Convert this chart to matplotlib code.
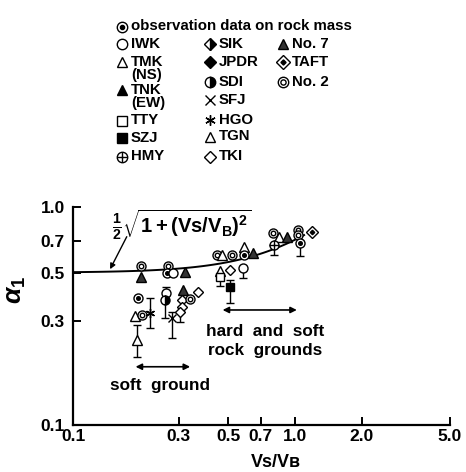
import numpy as np
import matplotlib
matplotlib.use('Agg')
from matplotlib import pyplot as plt

plt.rcParams['font.family'] = ['Liberation Sans', 'DejaVu Sans']
plt.rcParams['font.weight'] = 'bold'
plt.rcParams['mathtext.fontset'] = 'custom'
plt.rcParams['mathtext.rm'] = 'Liberation Sans:bold'
plt.rcParams['mathtext.it'] = 'Liberation Sans:italic:bold'
plt.rcParams['mathtext.bf'] = 'Liberation Sans:bold'

# ---- data ----
pt_kind = ['No2', 'No7', 'obs', 'TGN', 'No2', 'HGO', 'TMK',
           'No2', 'obs', 'IWK', 'No7',
           'IWK', 'SDI', 'SFJ',
           'No7', 'TKI', 'TKI', 'No2', 'TKI', 'TKI',
           'No2', 'TGN', 'No2', 'TGN', 'obs', 'No7',
           'TMK', 'TTY', 'TKI', 'IWK', 'SZJ',
           'No2', 'TMK', 'No7', 'HMY',
           'No2', 'No2', 'TAFT', 'obs']
pt_x = [0.202, 0.202, 0.196, 0.190, 0.204, 0.222, 0.194,
        0.268, 0.265, 0.282, 0.320,
        0.262, 0.259, 0.279,
        0.313, 0.310, 0.310, 0.336, 0.366, 0.305,
        0.445, 0.469, 0.520, 0.589, 0.589, 0.647,
        0.459, 0.459, 0.509, 0.583, 0.509,
        0.796, 0.850, 0.920, 0.804,
        1.03, 1.03, 1.19, 1.05]
pt_y = [0.536, 0.477, 0.383, 0.316, 0.320, 0.326, 0.245,
        0.536, 0.498, 0.498, 0.503,
        0.403, 0.375, 0.310,
        0.416, 0.375, 0.348, 0.378, 0.408, 0.330,
        0.603, 0.603, 0.603, 0.656, 0.603, 0.615,
        0.510, 0.477, 0.514, 0.525, 0.430,
        0.760, 0.728, 0.728, 0.670,
        0.783, 0.744, 0.767, 0.684]

# vertical scatter bars
err_x = [0.222, 0.194, 0.262, 0.259, 0.279, 0.305, 0.459, 0.583, 0.509, 0.804, 1.05]
err_lo = [0.279, 0.205, 0.403, 0.310, 0.251, 0.297, 0.434, 0.472, 0.363, 0.603, 0.596]
err_hi = [0.383, 0.288, 0.430, 0.375, 0.330, 0.330, 0.477, 0.525, 0.462, 0.670, 0.684]

# theoretical curve 1/2*sqrt(1+(Vs/VB)^2)
curve_x = np.geomspace(0.1, 1.1, 80)
curve_y = 0.5 * np.sqrt(1 + curve_x ** 2)

x_ticks = [0.1, 0.3, 0.5, 0.7, 1.0, 2.0, 5.0]
x_ticklabels = ['0.1', '0.3', '0.5', '0.7', '1.0', '2.0', '5.0']
y_ticks = [0.1, 0.3, 0.5, 0.7, 1.0]
y_ticklabels = ['0.1', '0.3', '0.5', '0.7', '1.0']

leg_kind = ['obs', 'IWK', 'TMK', 'TNK', 'TTY', 'SZJ', 'HMY',
            'SIK', 'JPDR', 'SDI', 'SFJ', 'HGO', 'TGN', 'TKI',
            'No7', 'TAFT', 'No2']
leg_label = ['observation data on rock mass', 'IWK', 'TMK\n(NS)', 'TNK\n(EW)', 'TTY', 'SZJ', 'HMY',
             'SIK', 'JPDR', 'SDI', 'SFJ', 'HGO', 'TGN', 'TKI',
             'No. 7', 'TAFT', 'No. 2']
# legend layout in pixels (x of marker, y of row)
leg_px = [122, 122, 122, 122, 122, 122, 122,
          210, 210, 210, 210, 210, 210, 210,
          283, 283, 283]
leg_py = [27, 44, 62, 90, 121, 138, 157,
          44, 62, 82, 100, 120, 137, 157,
          44, 62, 82]


def mark(ax, x, y, kind, ms, z=3):
    kw = dict(linestyle='none', color='k', mec='k', mew=1.0, zorder=z)
    if kind == 'obs':
        ax.plot(x, y, 'o', ms=ms, mfc='w', **kw)
        ax.plot(x, y, 'o', ms=ms * 0.4, mfc='k', **kw)
    elif kind == 'IWK':
        ax.plot(x, y, 'o', ms=ms, mfc='w', **kw)
    elif kind in ('TMK', 'TGN'):
        ax.plot(x, y, '^', ms=ms, mfc='w', **kw)
    elif kind == 'TNK':
        ax.plot(x, y, '^', ms=ms, mfc='k', **kw)
    elif kind == 'No7':
        ax.plot(x, y, '^', ms=ms, mfc='#333333', **kw)
    elif kind == 'TTY':
        ax.plot(x, y, 's', ms=ms * 0.9, mfc='w', **kw)
    elif kind == 'SZJ':
        ax.plot(x, y, 's', ms=ms * 0.9, mfc='k', **kw)
    elif kind == 'HMY':
        ax.plot(x, y, 'o', ms=ms, mfc='w', **kw)
        ax.plot(x, y, '+', ms=ms, **kw)
    elif kind == 'SIK':
        ax.plot(x, y, 'D', ms=ms * 0.85, mfc='k', mfcalt='w', fillstyle='right', **kw)
    elif kind == 'JPDR':
        ax.plot(x, y, 'D', ms=ms * 0.85, mfc='k', **kw)
    elif kind == 'SDI':
        ax.plot(x, y, 'o', ms=ms, mfc='k', mfcalt='w', fillstyle='right', **kw)
    elif kind == 'SFJ':
        ax.plot(x, y, 'x', ms=ms * 0.9, **kw)
    elif kind == 'HGO':
        ax.plot(x, y, marker=(6, 2, 0), ms=ms, **kw)
    elif kind == 'TKI':
        ax.plot(x, y, 'D', ms=ms * 0.85, mfc='w', **kw)
    elif kind == 'TAFT':
        ax.plot(x, y, 'D', ms=ms * 0.9, mfc='w', **kw)
        ax.plot(x, y, 'D', ms=ms * 0.35, mfc='k', **kw)
    elif kind == 'No2':
        ax.plot(x, y, 'o', ms=ms, mfc='w', **kw)
        ax.plot(x, y, 'o', ms=ms * 0.5, mfc='w', **kw)


fig = plt.figure(figsize=(4.66, 4.72), dpi=100)

# legend drawn in pixel coordinates over the whole figure
lax = fig.add_axes([0, 0, 1, 1])
lax.set_xlim(0, 466)
lax.set_ylim(472, 0)
lax.axis('off')
for k, lab, px, py in zip(leg_kind, leg_label, leg_px, leg_py):
    mark(lax, px, py, k, 7.5)
    lax.text(px + 9, py - 7.5, lab, ha='left', va='top', fontsize=10.8,
             fontweight='bold', linespacing=0.95)

ax = fig.add_axes([73 / 466, 1 - 425 / 472, 377 / 466, 218 / 472])
ax.set_facecolor('none')
ax.set_xscale('log')
ax.set_yscale('log')
ax.set_xlim(0.1, 5.0)
ax.set_ylim(0.1, 1.0)

ax.plot(curve_x, curve_y, color='k', lw=1.4, zorder=2)

for x, lo, hi in zip(err_x, err_lo, err_hi):
    mid = np.sqrt(lo * hi)
    ax.errorbar([x], [mid], yerr=[[mid - lo], [hi - mid]], fmt='none',
                ecolor='k', elinewidth=1.0, capsize=3, capthick=1.0, zorder=2)

for k, x, y in zip(pt_kind, pt_x, pt_y):
    mark(ax, x, y, k, 6.5)

# formula label and arrow
ax.text(0.150, 0.83, r'$\frac{1}{2}\sqrt{1+(\mathrm{Vs/V_B})^2}$', ha='left', va='center',
        fontsize=14.5)
ax.annotate('', xy=(0.145, 0.505), xytext=(0.177, 0.75),
            arrowprops=dict(arrowstyle='-|>', color='k', lw=1.0, mutation_scale=8))

# ground type ranges
ax.annotate('', xy=(0.186, 0.185), xytext=(0.347, 0.185),
            arrowprops=dict(arrowstyle='<|-|>', color='k', lw=1.2, mutation_scale=9))
ax.text(0.246, 0.151, 'soft  ground', ha='center', va='center', fontsize=12.3, fontweight='bold')
ax.annotate('', xy=(0.459, 0.337), xytext=(1.05, 0.337),
            arrowprops=dict(arrowstyle='<|-|>', color='k', lw=1.2, mutation_scale=9))
ax.text(0.735, 0.243, 'hard  and  soft\nrock  grounds', ha='center', va='center',
        fontsize=12.3, fontweight='bold', linespacing=1.3)

ax.set_xticks(x_ticks)
ax.set_xticklabels(x_ticklabels)
ax.set_yticks(y_ticks)
ax.set_yticklabels(y_ticklabels)
ax.minorticks_off()
ax.tick_params(direction='in', length=6, width=1.4, labelsize=12.5, pad=3)
ax.tick_params(axis='y', pad=6)
for lab in ax.get_xticklabels() + ax.get_yticklabels():
    lab.set_fontweight('bold')
ax.spines['top'].set_visible(False)
ax.spines['right'].set_visible(False)
ax.spines['left'].set_linewidth(1.6)
ax.spines['bottom'].set_linewidth(1.6)

ax.text(0.538, -0.17, 'Vs/V\u0299', transform=ax.transAxes, ha='center', va='center',
        fontsize=13, fontweight='bold')
ax.text(-0.15, 0.62, r'$\alpha_1$', transform=ax.transAxes, rotation=90,
        ha='center', va='center', fontsize=19)

fig.savefig('out.png', dpi=100)
